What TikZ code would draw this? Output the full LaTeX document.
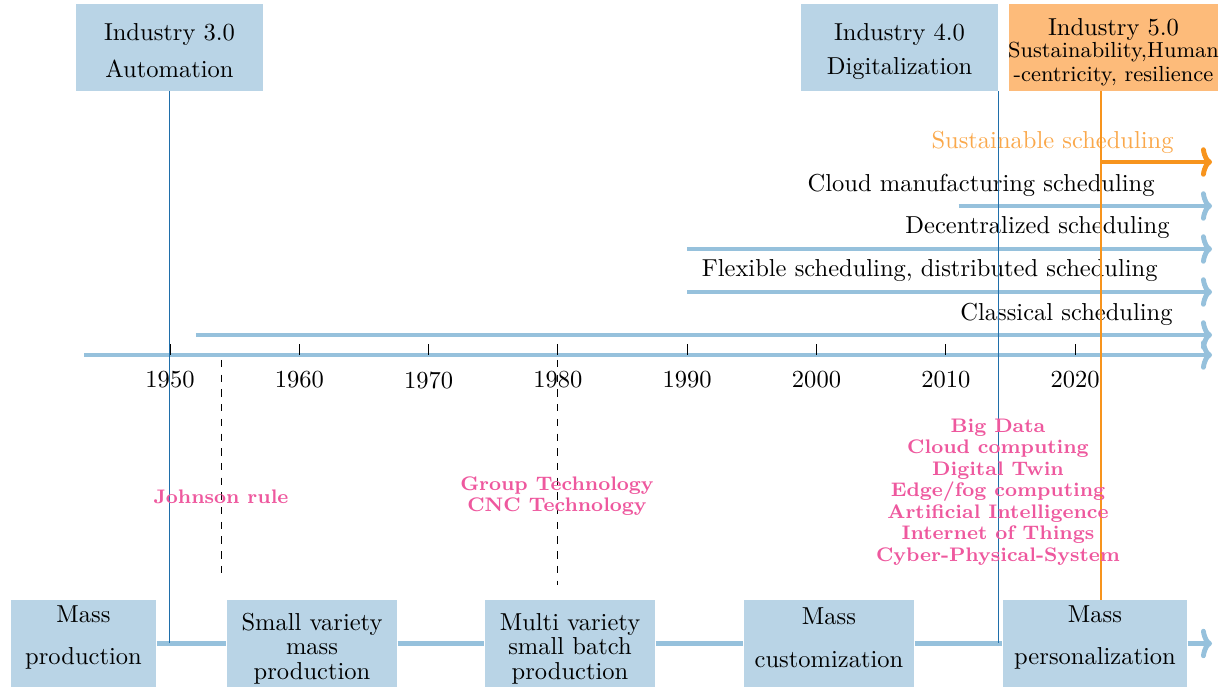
\documentclass[tikz,border=0pt]{standalone}
\usetikzlibrary{arrows.meta}
\definecolor{boxblue}{RGB}{185,212,230}
\definecolor{lineblue}{RGB}{150,193,220}
\definecolor{darkblue}{RGB}{31,110,170}
\definecolor{orangefill}{RGB}{253,187,122}
\definecolor{orangeline}{RGB}{247,148,29}
\definecolor{orangetext}{RGB}{250,168,75}
\definecolor{pinktext}{RGB}{238,88,158}
\begin{document}
\begin{tikzpicture}[x=0.408pt,y=-0.408pt,
  boxnode/.style={fill=boxblue, inner sep=0pt, minimum height=35.5pt},
  boxtext/.style={inner sep=0pt, align=center},
  flow/.style={line width=2pt, draw=lineblue, -{To[length=4.5pt,width=12pt]}},
  oflow/.style={line width=2pt, draw=orangeline, -{To[length=4.5pt,width=12pt]}},
  vline/.style={line width=0.7pt, draw=darkblue},
  ovline/.style={line width=0.7pt, draw=orangeline},
  tick/.style={line width=0.4pt, draw=black},
  ylabel/.style={anchor=north, inner sep=0pt},
  schedlabel/.style={anchor=east, inner sep=0pt},
  tech/.style={text=pinktext, font=\fontsize{8}{8.75}\selectfont\bfseries, align=center, inner sep=0pt},
  dashline/.style={dashed, line width=0.4pt, draw=black}
]
\useasboundingbox (0,0) rectangle (1223,687);

% Top industry boxes
\node[boxnode, minimum width=76.3pt] (i3) at (169.5,47.5) {};
\node[boxtext] (i3t) at (169.5,51) {Industry 3.0\\[3pt]Automation};
\node[boxnode, minimum width=80.4pt] (i4) at (899.5,47.5) {};
\node[boxtext] (i4t) at (899.5,51.5) {Industry 4.0\\[2pt]Digitalization};
\node[boxnode, fill=orangefill, minimum width=85.3pt] (i5) at (1113.5,47.5) {};
\node[boxtext, font=\fontsize{8.9}{9.8}\selectfont] (i5t) at (1113.5,52)
  {{\normalsize Industry 5.0}\\[-0.8pt]Sustainability,Human\\-centricity, resilience};

% Bottom boxes
\node[boxnode, minimum width=59.2pt] (b1) at (83.5,643.5) {};
\node[boxtext] (b1t) at (83.5,637.5) {Mass\\[5.5pt]production};
\node[boxnode, minimum width=69.4pt] (b2) at (312,643.5) {};
\node[boxtext, font=\fontsize{10}{10}\selectfont] (b2t) at (312,648.5) {Small variety\\mass\\production};
\node[boxnode, minimum width=69.4pt] (b3) at (570,643.5) {};
\node[boxtext, font=\fontsize{10}{10}\selectfont] (b3t) at (570,648.5) {Multi variety\\small batch\\production};
\node[boxnode, minimum width=69.4pt] (b4) at (829,643.5) {};
\node[boxtext] (b4t) at (829,637.5) {Mass\\[5.5pt]customization};
\node[boxnode, minimum width=75.1pt] (b5) at (1095,643.5) {};
\node[boxtext] (b5t) at (1095,637.5) {Mass\\[5.5pt]personalization};

% bottom flow
\coordinate (bend) at (1212,643.5);
\draw[line width=2pt, draw=lineblue] (b1.east) -- (b2.west);
\draw[line width=2pt, draw=lineblue] (b2.east) -- (b3.west);
\draw[line width=2pt, draw=lineblue] (b3.east) -- (b4.west);
\draw[line width=2pt, draw=lineblue] (b4.east) -- (b5.west);
\draw[flow] (b5.east) -- (bend);

% main axis
\coordinate (axstart) at (84,355);
\coordinate (axend) at (1212,355);
\draw[flow] (axstart) -- (axend);

% year ticks
\foreach \yr/\xx in {1950/170,1960/299.3,1970/428.6,1980/557.9,1990/687.2,2000/816.5,2010/945.8,2020/1075.1}{
  \coordinate (t\yr) at (\xx,355);
  \draw[tick] (t\yr) -- ++(0,-11);
  \node[ylabel] (l\yr) at (\xx,371) {\yr};
}

% scheduling arrows
\coordinate (c1s) at (195.9,335); \coordinate (c1e) at (1212,335);
\draw[flow] (c1s) -- (c1e);
\node[schedlabel] (c1l) at (1173,314) {Classical scheduling};

\coordinate (c2s) at (687.2,292); \coordinate (c2e) at (1212,292);
\draw[flow] (c2s) -- (c2e);
\node[schedlabel] (c2l) at (1158,271) {Flexible scheduling, distributed scheduling};

\coordinate (c3s) at (687.2,249); \coordinate (c3e) at (1212,249);
\draw[flow] (c3s) -- (c3e);
\node[schedlabel] (c3l) at (1170,228) {Decentralized scheduling};

\coordinate (c4s) at (958.7,206); \coordinate (c4e) at (1212,206);
\draw[flow] (c4s) -- (c4e);
\node[schedlabel] (c4l) at (1155,185) {Cloud manufacturing scheduling};

\coordinate (c5s) at (1101,162); \coordinate (c5e) at (1212,162);
\draw[oflow] (c5s) -- (c5e);
\node[schedlabel, text=orangetext] (c5l) at (1174,142) {Sustainable scheduling};

% industry vertical lines
\draw[vline] (i3.south) -- (i3.south |- b1.east);
\draw[vline] (i4.south east) -- (i4.south east |- b5.west);
\coordinate (y2022top) at (1101,91);
\draw[ovline] (y2022top) -- (y2022top |- b5.north);

% dashed milestone lines
\coordinate (d1s) at (221.7,360); \coordinate (d1e) at (221.7,580);
\draw[dashline] (d1s) -- (d1e);
\coordinate (d2s) at (557.9,360); \coordinate (d2e) at (557.9,585);
\draw[dashline] (d2s) -- (d2e);

% technology labels
\node[tech] (johnson) at (221,497) {Johnson rule};
\node[tech] (gt) at (557,496) {Group Technology\\CNC Technology};
\node[tech] (i4tech) at (998,492) {Big Data\\Cloud computing\\Digital Twin\\Edge/fog computing\\Artificial Intelligence\\Internet of Things\\Cyber-Physical-System};
\end{tikzpicture}
\end{document}
